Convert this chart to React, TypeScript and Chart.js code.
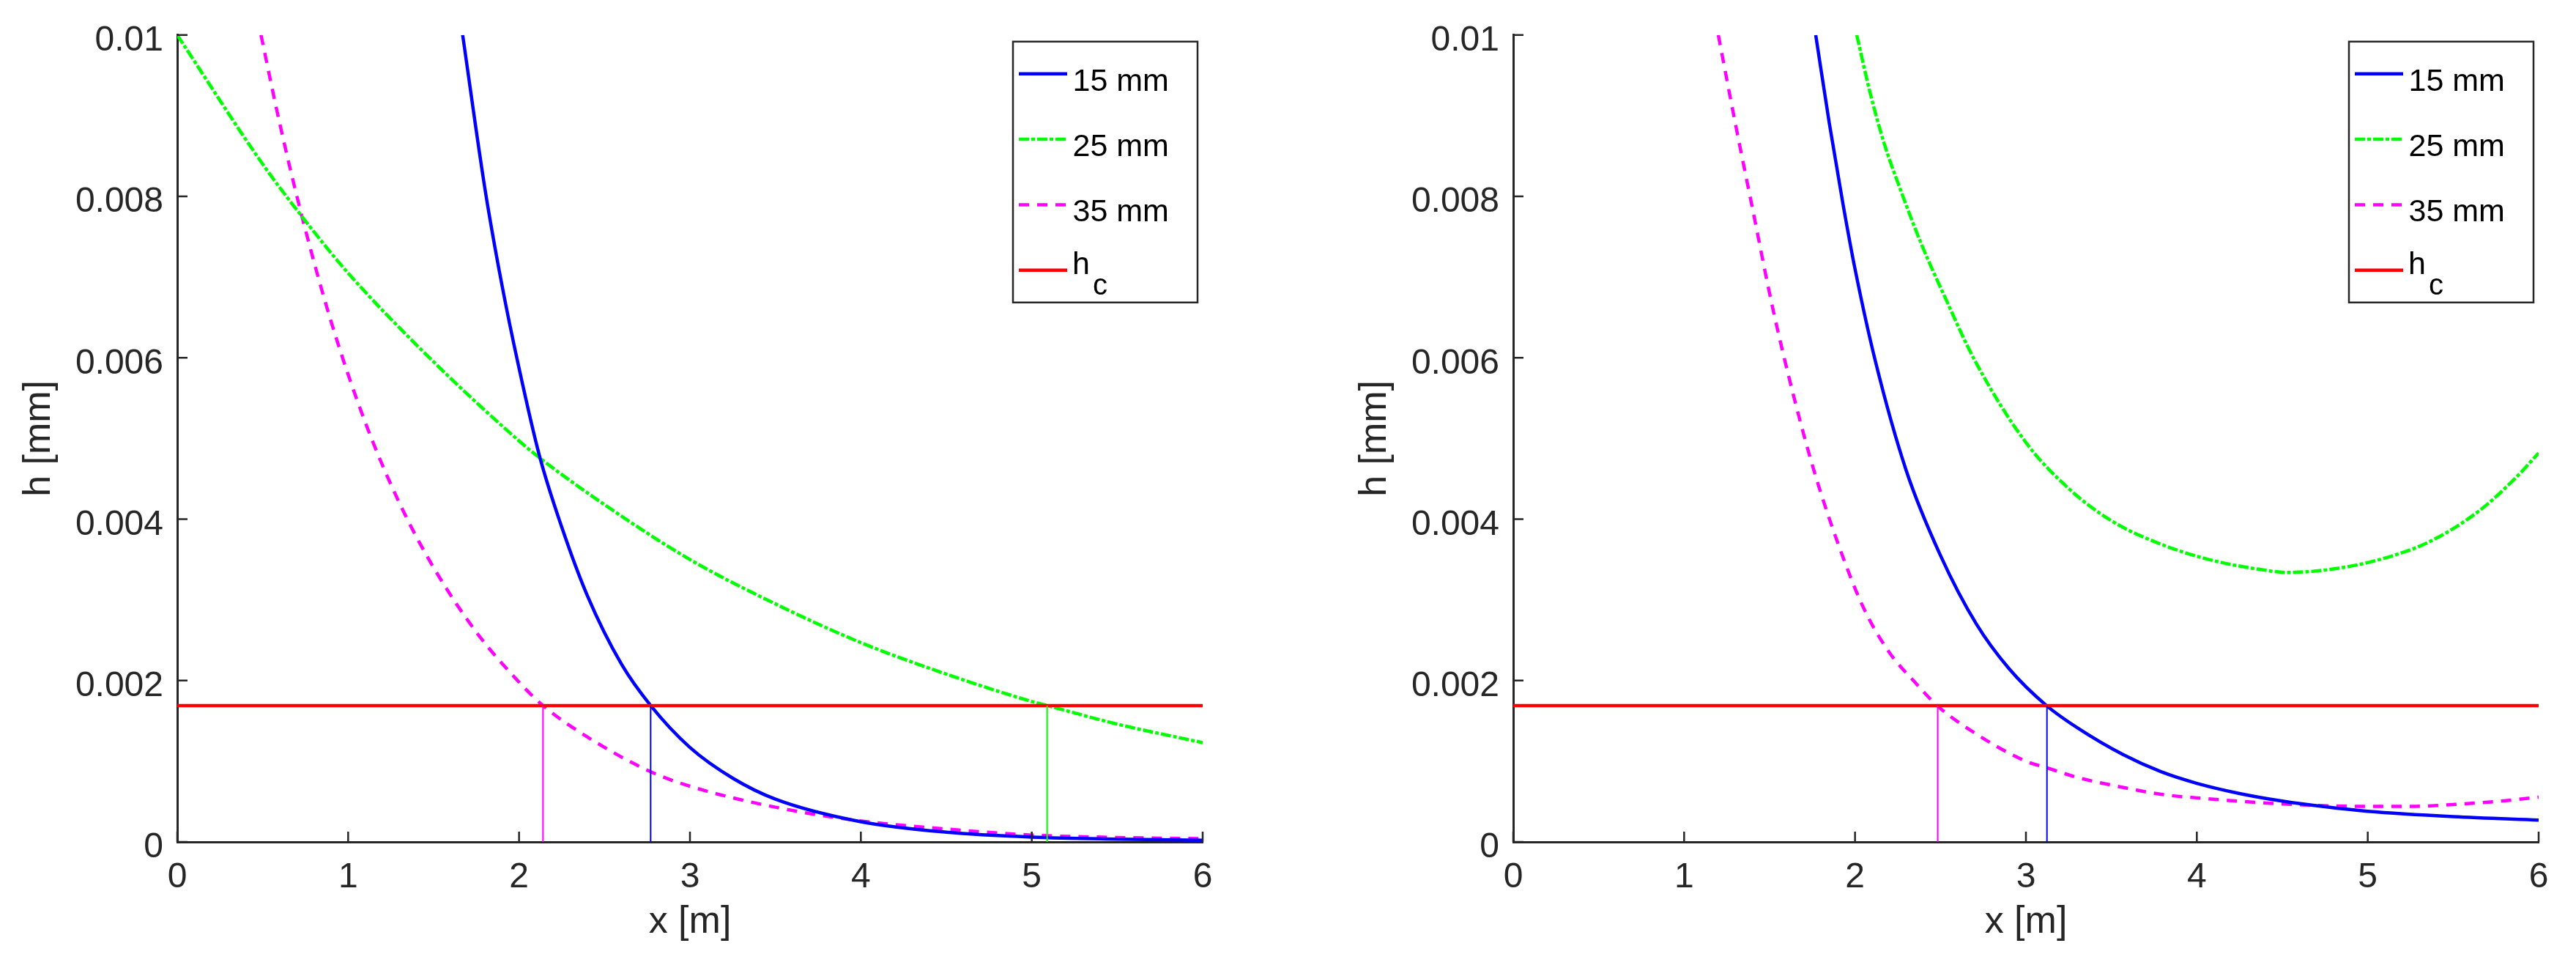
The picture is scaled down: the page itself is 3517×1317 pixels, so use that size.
import React, { useRef, useEffect } from "react";
import { Chart, Plugin, registerables } from "chart.js";

Chart.register(...registerables);

const FONT = '"Liberation Sans", Arial, Helvetica, sans-serif';
const INK = "#262626";

const xTicks = [0, 1, 2, 3, 4, 5, 6];
const yTicks = [0, 0.002, 0.004, 0.006, 0.008, 0.01];
const yTickLabels = ["0", "0.002", "0.004", "0.006", "0.008", "0.01"];
const legendLabels = ["15 mm", "25 mm", "35 mm", "h_c"];
const hc = 0.00169;

// left panel
const left15X = [1.67, 1.8, 1.9, 2.0, 2.12, 2.25, 2.4, 2.6, 2.77, 3.0, 3.25, 3.5, 4.0, 4.5, 5.0, 5.5, 6.0];
const left15H = [0.01, 0.0081, 0.0069, 0.00587, 0.00478, 0.0039, 0.00305, 0.0022, 0.00169, 0.00117, 0.00079, 0.00053, 0.00025, 0.00012, 0.00006, 0.000035, 0.00002];
const left25X = [0, 0.5, 0.73, 1, 1.5, 2, 2.12, 2.5, 3, 3.5, 4, 4.5, 5, 5.09, 5.5, 6];
const left25H = [0.01, 0.0084, 0.00775, 0.00705, 0.00595, 0.00497, 0.00476, 0.00418, 0.0035, 0.00295, 0.00247, 0.00208, 0.00174, 0.00169, 0.00146, 0.00123];
const left35X = [0.49, 0.6, 0.73, 0.9, 1.1, 1.3, 1.5, 1.75, 2.0, 2.14, 2.4, 2.77, 3.0, 3.5, 4.0, 4.5, 5.0, 5.5, 6.0];
const left35H = [0.01, 0.0089, 0.00775, 0.00645, 0.0052, 0.0042, 0.0034, 0.0026, 0.00198, 0.00169, 0.0013, 0.00087, 0.00069, 0.00043, 0.00026, 0.00016, 0.000085, 0.000055, 0.00004];
const leftDropX = [2.77, 5.09, 2.14];

// right panel
const right15X = [1.77, 1.85, 1.93, 2.0, 2.12, 2.3, 2.5, 2.71, 2.9, 3.12, 3.3, 3.57, 3.79, 4.0, 4.25, 4.5, 4.75, 5.0, 5.5, 6.0];
const right15H = [0.01, 0.0089, 0.0079, 0.0071, 0.00595, 0.0046, 0.00355, 0.0027, 0.00215, 0.00169, 0.001415, 0.00108, 0.00087, 0.000726, 0.0006, 0.000506, 0.000435, 0.00038, 0.000314, 0.000271];
const right25X = [2.01, 2.09, 2.17, 2.27, 2.39, 2.52, 2.7, 3.0, 3.25, 3.5, 3.79, 4.07, 4.36, 4.53, 4.79, 5.07, 5.36, 5.65, 5.86, 6.0];
const right25H = [0.01, 0.00927, 0.00866, 0.00806, 0.0074, 0.00678, 0.00597, 0.00495, 0.00438, 0.00398, 0.00369, 0.0035, 0.00338, 0.00334, 0.00338, 0.0035, 0.00372, 0.0041, 0.0045, 0.00482];
const right35X = [1.2, 1.3, 1.4, 1.52, 1.65, 1.76, 1.9, 2.05, 2.2, 2.35, 2.48, 2.7, 3.0, 3.12, 3.3, 3.57, 3.79, 4.0, 4.5, 5.0, 5.25, 5.5, 5.75, 6.0];
const right35H = [0.01, 0.0089, 0.00785, 0.0066, 0.00545, 0.0046, 0.0037, 0.0029, 0.00235, 0.00198, 0.00169, 0.00135, 0.001, 0.00092, 0.0008, 0.000675, 0.00059, 0.000546, 0.00047, 0.00044, 0.00044, 0.000464, 0.0005, 0.000555];
const rightDropX = [3.123, null, 2.484];

const seriesColors = ["#0000ff", "#00ff00", "#ff00ff"];
const seriesDash = [[], [14, 3, 5, 3], [14, 11]];
const hcColor = "#ff0000";

// ticks pointing into the plot, like the original
const inwardTicks: Plugin<"line"> = {
  id: "inwardTicks",
  afterDatasetsDraw(chart) {
    const { ctx, chartArea, scales } = chart;
    ctx.save();
    ctx.strokeStyle = INK;
    ctx.lineWidth = 2.5;
    ctx.beginPath();
    scales.x.ticks.forEach((t) => {
      const px = scales.x.getPixelForValue(t.value);
      ctx.moveTo(px, chartArea.bottom);
      ctx.lineTo(px, chartArea.bottom - 14);
    });
    scales.y.ticks.forEach((t) => {
      const py = scales.y.getPixelForValue(t.value);
      ctx.moveTo(chartArea.left, py);
      ctx.lineTo(chartArea.left + 14, py);
    });
    ctx.stroke();
    ctx.restore();
  },
};

const boxLegend: Plugin<"line"> = {
  id: "boxLegend",
  afterDraw(chart) {
    const { ctx, chartArea } = chart;
    const right = chartArea.right - 7;
    const left = right - 252;
    const top = chartArea.top + 9;
    const height = 356;
    ctx.save();
    ctx.fillStyle = "#ffffff";
    ctx.fillRect(left, top, right - left, height);
    ctx.strokeStyle = INK;
    ctx.lineWidth = 2.5;
    ctx.strokeRect(left, top, right - left, height);

    legendLabels.forEach((name, i) => {
      const ds: any = chart.data.datasets.find((d) => d.label === name);
      if (!ds) return;
      const y = top + 44 + i * 89.3;
      ctx.strokeStyle = ds.borderColor;
      ctx.lineWidth = 4.5;
      ctx.setLineDash(ds.borderDash || []);
      ctx.beginPath();
      ctx.moveTo(left + 8, y);
      ctx.lineTo(left + 74, y);
      ctx.stroke();
      ctx.setLineDash([]);
      ctx.fillStyle = "#000000";
      ctx.textBaseline = "alphabetic";
      ctx.textAlign = "left";
      ctx.font = `43px ${FONT}`;
      if (name === "h_c") {
        ctx.fillText("h", left + 81, y + 5);
        ctx.font = `40px ${FONT}`;
        ctx.fillText("c", left + 109, y + 33);
      } else {
        ctx.fillText(name, left + 81.5, y + 23);
      }
    });
    ctx.restore();
  },
};

interface PanelProps {
  xs: number[][];
  hs: number[][];
  drops: (number | null)[];
  left: number;
}

const Panel: React.FC<PanelProps> = ({ xs, hs, drops, left }) => {
  const canvasRef = useRef<HTMLCanvasElement | null>(null);
  const chartRef = useRef<Chart<"line"> | null>(null);

  useEffect(() => {
    if (!canvasRef.current) return;
    const ctx = canvasRef.current.getContext("2d");
    if (!ctx) return;

    const curves: any[] = xs.map((cx, i) => ({
      label: legendLabels[i],
      data: cx.map((x, j) => ({ x, y: hs[i][j] })),
      borderColor: seriesColors[i],
      borderDash: seriesDash[i],
      borderWidth: 4.5,
      pointRadius: 0,
      cubicInterpolationMode: "monotone",
      fill: false,
    }));

    const hcLine = {
      label: legendLabels[3],
      data: [
        { x: xTicks[0], y: hc },
        { x: xTicks[xTicks.length - 1], y: hc },
      ],
      borderColor: hcColor,
      borderWidth: 4.5,
      pointRadius: 0,
    };

    const dropLines: any[] = [];
    drops.forEach((dx, i) => {
      if (dx === null) return;
      dropLines.push({
        label: "",
        data: [
          { x: dx, y: 0 },
          { x: dx, y: hc },
        ],
        borderColor: seriesColors[i],
        borderWidth: 2,
        pointRadius: 0,
      });
    });

    chartRef.current = new Chart(ctx, {
      type: "line",
      data: { datasets: [...dropLines, hcLine, ...curves] },
      options: {
        animation: false,
        responsive: false,
        devicePixelRatio: 1,
        events: [],
        layout: { padding: { left: 0, top: 42, right: 51, bottom: 0 } },
        plugins: { legend: { display: false }, tooltip: { enabled: false } },
        scales: {
          x: {
            type: "linear",
            min: 0,
            max: 6,
            afterFit: (s: any) => {
              s.height = 168;
            },
            afterBuildTicks: (s: any) => {
              s.ticks = xTicks.map((v) => ({ value: v }));
            },
            grid: { display: false, drawTicks: false },
            border: { display: true, color: INK, width: 3 },
            ticks: {
              color: INK,
              font: { family: FONT, size: 48 },
              padding: 20,
              maxRotation: 0,
              autoSkip: false,
              callback: (v) => String(v),
            },
            title: {
              display: true,
              text: "x [m]",
              color: INK,
              font: { family: FONT, size: 52 },
              padding: { top: 0, bottom: 27 },
            },
          },
          y: {
            type: "linear",
            min: 0,
            max: 0.01,
            afterFit: (s: any) => {
              s.width = 242;
            },
            afterBuildTicks: (s: any) => {
              s.ticks = yTicks.map((v) => ({ value: v }));
            },
            grid: { display: false, drawTicks: false },
            border: { display: true, color: INK, width: 3 },
            ticks: {
              color: INK,
              font: { family: FONT, size: 48 },
              padding: 19,
              labelOffset: 8,
              autoSkip: false,
              callback: (v) => yTickLabels[yTicks.indexOf(Number(v))] ?? "",
            },
            title: {
              display: true,
              text: "h [mm]",
              color: INK,
              font: { family: FONT, size: 52 },
              padding: { top: 22, bottom: 0 },
            },
          },
        },
      },
      plugins: [inwardTicks, boxLegend],
    });

    return () => {
      chartRef.current?.destroy();
    };
  }, [xs, hs, drops]);

  return (
    <canvas
      ref={canvasRef}
      width={1693}
      height={1317}
      style={{ position: "absolute", left, top: 0, display: "block" }}
    />
  );
};

const App: React.FC = () => {
  return (
    <div
      style={{
        position: "fixed",
        left: 0,
        top: 0,
        width: 3517,
        height: 1317,
        overflow: "hidden",
        background: "#ffffff",
      }}
    >
      <Panel xs={[left15X, left25X, left35X]} hs={[left15H, left25H, left35H]} drops={leftDropX} left={0} />
      <Panel xs={[right15X, right25X, right35X]} hs={[right15H, right25H, right35H]} drops={rightDropX} left={1824} />
    </div>
  );
};

export default App;
